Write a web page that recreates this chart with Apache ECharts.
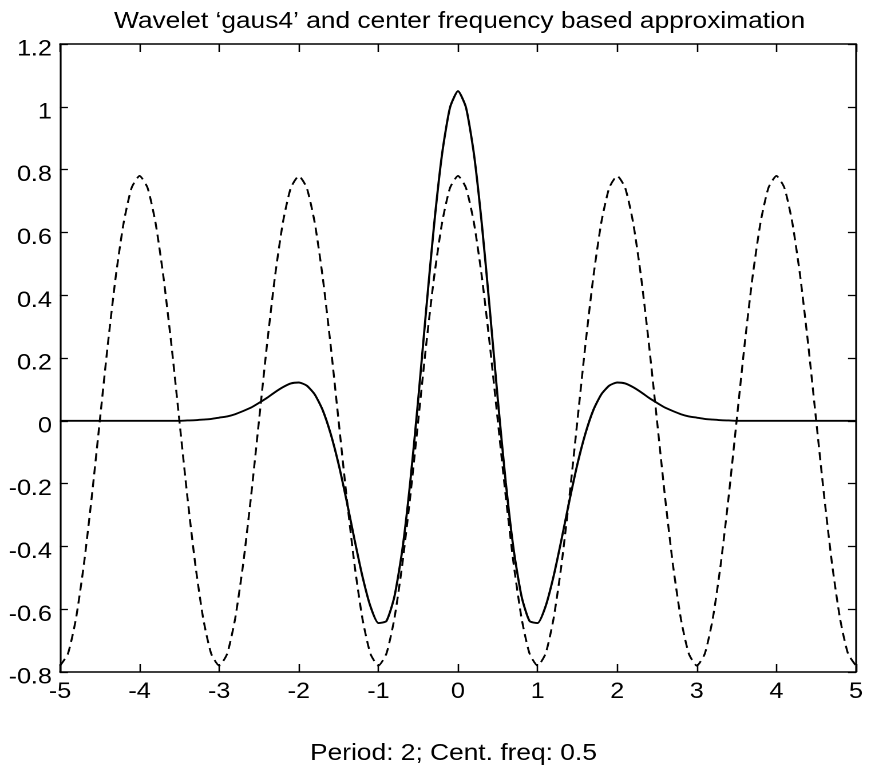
<!DOCTYPE html>
<html>
<head>
<meta charset="utf-8">
<script src="https://cdn.jsdelivr.net/npm/echarts@6/dist/echarts.min.js"></script>
<style>
  html, body { margin: 0; padding: 0; background: #fff; overflow: hidden; }
  /* the reference is stretched horizontally, so the chart is drawn narrower and scaled */
  #main { width: 761px; height: 777px; transform: scaleX(1.14455); transform-origin: 0 0; }
</style>
</head>
<body>
<div id="main"></div>
<script>
var xs = [-5, -4.9, -4.8, -4.7, -4.6, -4.5, -4.4, -4.3, -4.2, -4.1,
  -4, -3.9, -3.8, -3.7, -3.6, -3.5, -3.4, -3.3, -3.2, -3.1,
  -3, -2.9, -2.8, -2.7, -2.6, -2.5, -2.4, -2.3, -2.2, -2.1,
  -2, -1.9, -1.8, -1.7, -1.6, -1.5, -1.4, -1.3, -1.2, -1.1,
  -1, -0.9, -0.8, -0.7, -0.6, -0.5, -0.4, -0.3, -0.2, -0.1,
  0, 0.1, 0.2, 0.3, 0.4, 0.5, 0.6, 0.7, 0.8, 0.9,
  1, 1.1, 1.2, 1.3, 1.4, 1.5, 1.6, 1.7, 1.8, 1.9,
  2, 2.1, 2.2, 2.3, 2.4, 2.5, 2.6, 2.7, 2.8, 2.9,
  3, 3.1, 3.2, 3.3, 3.4, 3.5, 3.6, 3.7, 3.8, 3.9,
  4, 4.1, 4.2, 4.3, 4.4, 4.5, 4.6, 4.7, 4.8, 4.9, 5];

// wavelet gaus4 (solid)
var wavelet = [0, 0, 0, 0, 0, 0, 0, 0, 0, 0,
  0, 0, 0, 0, 0, 0, 0.001, 0.002, 0.004, 0.006,
  0.010, 0.014, 0.021, 0.031, 0.042, 0.057, 0.073, 0.091, 0.107, 0.119,
  0.122, 0.112, 0.084, 0.034, -0.041, -0.138, -0.254, -0.378, -0.496, -0.591,
  -0.644, -0.638, -0.561, -0.412, -0.196, 0.068, 0.353, 0.625, 0.850, 0.998,
  1.05, 0.998, 0.850, 0.625, 0.353, 0.068, -0.196, -0.412, -0.561, -0.638,
  -0.644, -0.591, -0.496, -0.378, -0.254, -0.138, -0.041, 0.034, 0.084, 0.112,
  0.122, 0.119, 0.107, 0.091, 0.073, 0.057, 0.042, 0.031, 0.021, 0.014,
  0.010, 0.006, 0.004, 0.002, 0.001, 0, 0, 0, 0, 0,
  0, 0, 0, 0, 0, 0, 0, 0, 0, 0, 0];

// center frequency approximation (dashed)
var approx = [-0.78, -0.742, -0.631, -0.458, -0.241, 0, 0.241, 0.458, 0.631, 0.742,
  0.78, 0.742, 0.631, 0.458, 0.241, 0, -0.241, -0.458, -0.631, -0.742,
  -0.78, -0.742, -0.631, -0.458, -0.241, 0, 0.241, 0.458, 0.631, 0.742,
  0.78, 0.742, 0.631, 0.458, 0.241, 0, -0.241, -0.458, -0.631, -0.742,
  -0.78, -0.742, -0.631, -0.458, -0.241, 0, 0.241, 0.458, 0.631, 0.742,
  0.78, 0.742, 0.631, 0.458, 0.241, 0, -0.241, -0.458, -0.631, -0.742,
  -0.78, -0.742, -0.631, -0.458, -0.241, 0, 0.241, 0.458, 0.631, 0.742,
  0.78, 0.742, 0.631, 0.458, 0.241, 0, -0.241, -0.458, -0.631, -0.742,
  -0.78, -0.742, -0.631, -0.458, -0.241, 0, 0.241, 0.458, 0.631, 0.742,
  0.78, 0.742, 0.631, 0.458, 0.241, 0, -0.241, -0.458, -0.631, -0.742, -0.78];

var titleText = 'Wavelet \u2018gaus4\u2019 and center frequency based approximation';
var xLabelText = 'Period: 2; Cent. freq: 0.5';

var font = '"Liberation Sans", Arial, sans-serif';

function pairs(ys) {
  var out = [];
  for (var i = 0; i < xs.length; i++) out.push([xs[i], ys[i]]);
  return out;
}

var chart = echarts.init(document.getElementById('main'), null, { devicePixelRatio: 2 });

var xBase = {
  type: 'value', min: -5, max: 5, interval: 1,
  axisLine: { show: true, onZero: false, lineStyle: { color: '#000', width: 1.6 } },
  axisTick: { show: true, inside: true, length: 8, lineStyle: { color: '#000', width: 1.3 } },
  splitLine: { show: false }
};
var yBase = {
  type: 'value', min: -0.8, max: 1.2, interval: 0.2,
  axisLine: { show: true, onZero: false, lineStyle: { color: '#000', width: 1.6 } },
  axisTick: { show: true, inside: true, length: 7, lineStyle: { color: '#000', width: 1.3 } },
  splitLine: { show: false }
};

var option = {
  animation: false,
  backgroundColor: '#fff',
  title: [{
    text: titleText,
    left: 99.6, top: 10, padding: 0,
    textStyle: { fontFamily: font, fontSize: 23, fontWeight: 'normal', color: '#000' }
  }, {
    text: xLabelText,
    left: 270.9, top: 742, padding: 0,
    textStyle: { fontFamily: font, fontSize: 23, fontWeight: 'normal', color: '#000' }
  }],
  grid: { left: 52.4, right: 13.1, top: 44, bottom: 105, containLabel: false, outerBoundsMode: 'none' },
  xAxis: [
    Object.assign({}, xBase, {
      position: 'bottom',
      axisLabel: { show: true, margin: 9, showMinLabel: true, showMaxLabel: true,
        fontFamily: font, fontSize: 22, color: '#000' }
    }),
    Object.assign({}, xBase, { position: 'top', axisLabel: { show: false } })
  ],
  yAxis: [
    Object.assign({}, yBase, {
      position: 'left',
      // labels sit a little below their ticks
      axisLabel: { show: true, margin: 7, verticalAlign: 'top', lineHeight: 11,
        showMinLabel: true, showMaxLabel: true,
        fontFamily: font, fontSize: 22, color: '#000' }
    }),
    Object.assign({}, yBase, { position: 'right', axisLabel: { show: false } })
  ],
  series: [{
    name: 'gaus4',
    type: 'line',
    data: pairs(wavelet),
    showSymbol: false,
    symbol: 'none',
    smooth: 0.2,
    lineStyle: { color: '#000', width: 1.9, type: 'solid' },
    z: 3
  }, {
    name: 'approximation',
    type: 'line',
    data: pairs(approx),
    showSymbol: false,
    symbol: 'none',
    smooth: 0.2,
    lineStyle: { color: '#000', width: 1.7, type: [8, 5] },
    z: 2
  }]
};

chart.setOption(option);
</script>
</body>
</html>
